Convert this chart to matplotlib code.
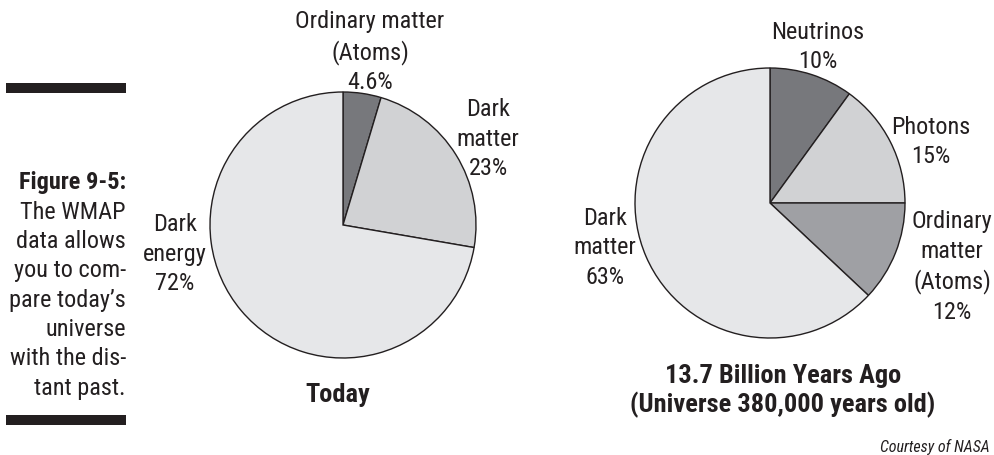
import matplotlib.pyplot as plt
from matplotlib import font_manager

# data ---------------------------------------------------------------
today_labels = ["Ordinary matter\n(Atoms)", "Dark\nmatter", "Dark\nenergy"]
today_values = [4.6, 23, 72]

past_labels = ["Neutrinos", "Photons", "Ordinary\nmatter\n(Atoms)", "Dark\nmatter"]
past_values = [10, 15, 12, 63]

today_title = "Today"
past_title = "13.7 Billion Years Ago\n(Universe 380,000 years old)"

caption_head = "Figure 9-5:"
caption_body = ["The WMAP", "data allows", "you to com-", "pare today\u2019s",
                "universe", "with the dis-", "tant past."]
credit = "Courtesy of NASA"

# style --------------------------------------------------------------
W, H = 994, 455
INK = "#231f20"
today_colors = ["#77787c", "#d1d2d4", "#e6e7e9"]
past_colors = ["#77787c", "#d1d2d4", "#9fa0a4", "#e6e7e9"]

installed = {f.name for f in font_manager.fontManager.ttflist}
narrow = next((f for f in ["Liberation Sans Narrow", "Roboto Condensed",
                           "Open Sans Condensed"] if f in installed), "DejaVu Sans")
plt.rcParams["font.family"] = [narrow, "DejaVu Sans"]

fig = plt.figure(figsize=(W / 100, H / 100), dpi=100)
ax = fig.add_axes([0, 0, 1, 1])

wedge_style = dict(edgecolor=INK, linewidth=1.0)
# y axis gets inverted below, so counterclock=True draws clockwise on screen
ax.pie(today_values, colors=today_colors, center=(343, 225), radius=133,
       startangle=-90, counterclock=True, wedgeprops=wedge_style, frame=True)
ax.pie(past_values, colors=past_colors, center=(770, 203), radius=135,
       startangle=-90, counterclock=True, wedgeprops=wedge_style, frame=True)
ax.set_xlim(0, W)
ax.set_ylim(H, 0)  # pixel-like coordinates, y downwards
ax.set_aspect("equal")
ax.axis("off")

txt = dict(fontsize=17.5, color=INK, ha="center", va="center", linespacing=1.36)

# labels for today's pie
today_pos = [(370, 52), (488, 139), (175, 254)]
for lab, val, (x, y) in zip(today_labels, today_values, today_pos):
    ax.text(x, y, f"{lab}\n{val:g}%", **txt)

# labels for the early universe pie
past_pos = [(818, 47), (931, 142), (952, 267), (605, 248)]
for lab, val, (x, y) in zip(past_labels, past_values, past_pos):
    ax.text(x, y, f"{lab}\n{val:g}%", **txt)

ax.text(338, 395, today_title, fontsize=19, fontweight="bold", color=INK,
        ha="center", va="center")
ax.text(783, 391, past_title, fontsize=19, fontweight="bold", color=INK,
        ha="center", va="center", linespacing=1.17)
ax.text(990, 447, credit, fontsize=11.5, style="italic", color=INK,
        ha="right", va="center")

# side caption with the two heavy rules
ax.fill_between([6, 126], 82.7, 92.7, color=INK, lw=0)
ax.fill_between([6, 126], 415, 425, color=INK, lw=0)
ax.text(126, 183, caption_head, fontsize=17.5, fontweight="bold", color=INK,
        ha="right", va="center")
for i, line in enumerate(caption_body, start=1):
    ax.text(126, 183 + i * 29.3, line, fontsize=17.5, color=INK,
            ha="right", va="center")

fig.savefig("out.png", dpi=100)
